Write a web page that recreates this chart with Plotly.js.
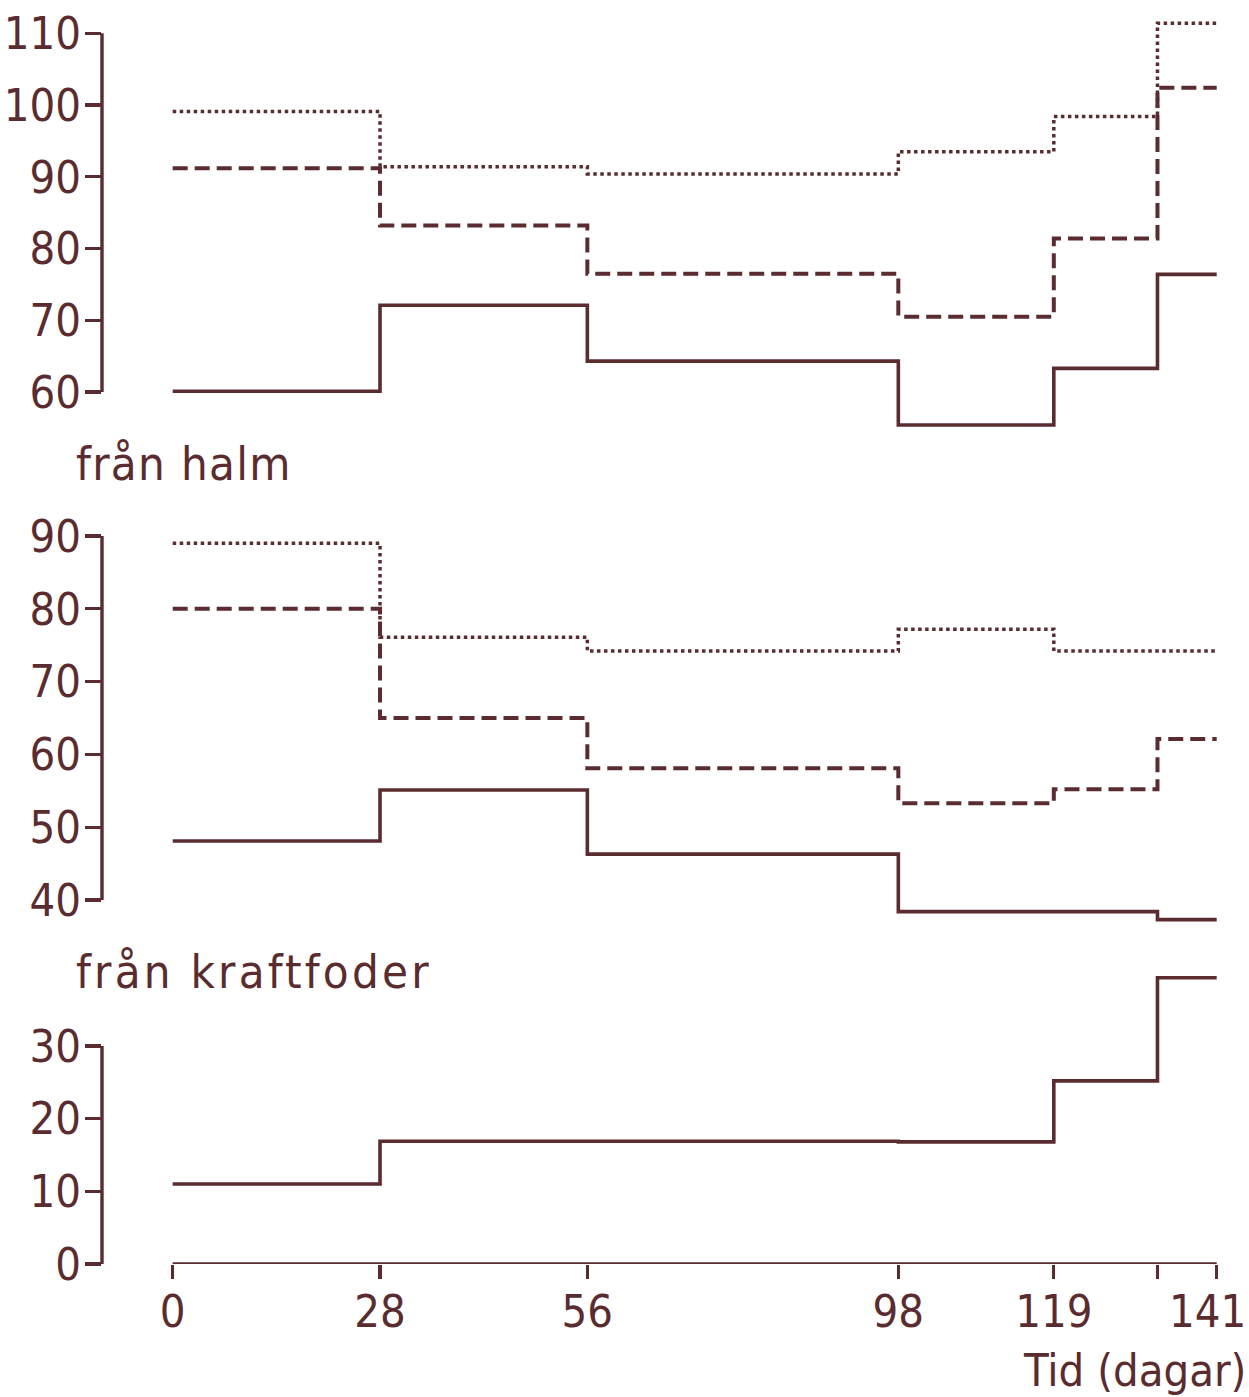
<!DOCTYPE html>
<html>
<head>
<meta charset="utf-8">
<script src="https://cdn.plot.ly/plotly-3.0.1.min.js"></script>
<style>html,body{margin:0;padding:0;background:#fff;}#chart{width:1249px;height:1397px;}</style>
</head>
<body>
<div id="chart"></div>
<script>
// ---------- data ----------
const days = [0, 28, 56, 98, 119, 133, 141];
const dayTicks = [0, 28, 56, 98, 119, 133, 141];
// the last label ("141") sits flush with the right edge, so it is drawn as a right-aligned text below
const dayTickLabels = ['0', '28', '56', '98', '119', '', ''];
const lastDayLabel = '141';

// top panel (total)
const totalDotted = [99.1, 91.4, 90.4, 93.5, 98.4, 111.4, 111.4];
const totalDashed = [91.2, 83.2, 76.5, 70.5, 81.4, 102.4, 102.4];
const totalSolid  = [60.1, 72.1, 64.3, 55.4, 63.3, 76.4, 76.4];
const totalTicks  = [60, 70, 80, 90, 100, 110];

// middle panel (från halm)
const halmDotted = [89.0, 76.1, 74.2, 77.2, 74.2, 74.2, 74.2];
const halmDashed = [80.0, 65.0, 58.1, 53.3, 55.2, 62.1, 62.1];
const halmSolid  = [48.1, 55.1, 46.3, 38.4, 38.4, 37.3, 37.3];
const halmTicks  = [40, 50, 60, 70, 80, 90];

// bottom panel (från kraftfoder)
const kraftSolid = [11.0, 16.9, 16.9, 16.8, 25.2, 39.4, 39.4];
const kraftTicks = [0, 10, 20, 30];

const panelLabels = ['från halm', 'från kraftfoder'];
const xTitle = 'Tid (dagar)';

// ---------- layout geometry ----------
const W = 1249, H = 1397;
const mL = 102, mR = 9, mT = 0, mB = 133;
const plotW = W - mL - mR, plotH = H - mT - mB;
const ink = '#5a2c30';
const fam = '"DejaVu Sans Condensed", "DejaVu Sans", sans-serif';
const tickFont = {family: fam, size: 45, color: ink};

// x: 0 at px 172.7, 141 at px 1216.7
const xk = (141 - 0) / (1216.7 - 172.7);
const xRange = [0 - (172.7 - mL) * xk, 141 + ((mL + plotW) - 1216.7) * xk];

function dom(topPx, botPx) { return [(mT + plotH - botPx) / plotH, (mT + plotH - topPx) / plotH]; }
function yr(vA, pA, vB, pB, topPx, botPx) {
  const k = (vA - vB) / (pB - pA);
  return [vB - (botPx - pB) * k, vA + (pA - topPx) * k];
}
function px2x(px) { return (px - mL) / plotW; }
function px2y(py) { return (mT + plotH - py) / plotH; }

const P1 = {top: 5, bot: 440, range: yr(110, 33.3, 60, 392, 5, 440)};
const P2 = {top: 515, bot: 930, range: yr(90, 536, 40, 900, 515, 930)};
const P3 = {top: 960, bot: 1264, range: yr(30, 1046, 0, 1264, 960, 1264)};

const dotted = '3.5px,3.5px';
const dashed = '15px,7px';

function tr(y, yaxis, dash, width) {
  return {x: days, y: y, xaxis: 'x', yaxis: yaxis, type: 'scatter', mode: 'lines',
    line: {shape: 'hv', color: ink, width: width, dash: dash}, hoverinfo: 'skip', showlegend: false};
}

const data = [
  tr(totalDotted, 'y', dotted, 3.5),
  tr(totalDashed, 'y', dashed, 4),
  tr(totalSolid, 'y', 'solid', 3.6),
  tr(halmDotted, 'y2', dotted, 3.5),
  tr(halmDashed, 'y2', dashed, 4),
  tr(halmSolid, 'y2', 'solid', 3.6),
  tr(kraftSolid, 'y3', 'solid', 3.6)
];

function yax(domain, range, ticks) {
  return {domain: domain, range: range, anchor: 'x', tickvals: ticks, ticktext: ticks.map(String),
    ticks: 'outside', ticklen: 16, tickwidth: 3.2, tickcolor: ink, showline: false, showgrid: false,
    zeroline: false, tickfont: tickFont, ticklabelstandoff: -5, fixedrange: true};
}

const axLine = {color: ink, width: 3.4};
const shapes = [
  {type: 'line', xref: 'paper', x0: 0, x1: 0, yref: 'y', y0: 60, y1: 110, line: axLine},
  {type: 'line', xref: 'paper', x0: 0, x1: 0, yref: 'y2', y0: 40, y1: 90, line: axLine},
  {type: 'line', xref: 'paper', x0: 0, x1: 0, yref: 'y3', y0: 0, y1: 30, line: axLine},
  {type: 'line', xref: 'x', x0: 0, x1: 141, yref: 'y3', y0: 0, y1: 0, line: axLine}
];

const labelFont = {family: fam, size: 47, color: ink};
const annotations = [
  {text: '<span style="letter-spacing:1.3px">' + panelLabels[0] + '</span>', xref: 'paper', yref: 'paper',
   x: px2x(74), y: px2y(464), xanchor: 'left', yanchor: 'middle', showarrow: false, font: labelFont},
  {text: '<span style="letter-spacing:3.2px">' + panelLabels[1] + '</span>', xref: 'paper', yref: 'paper',
   x: px2x(74), y: px2y(971), xanchor: 'left', yanchor: 'middle', showarrow: false, font: labelFont},
  {text: lastDayLabel, xref: 'paper', yref: 'paper', x: px2x(1248), y: px2y(1311), xanchor: 'right', yanchor: 'middle',
   showarrow: false, font: tickFont},
  {text: xTitle, xref: 'paper', yref: 'paper', x: px2x(1248), y: px2y(1370), xanchor: 'right', yanchor: 'middle', showarrow: false,
   font: {family: fam, size: 45, color: ink}}
];

const layout = {
  width: W, height: H,
  margin: {l: mL, r: mR, t: mT, b: mB, pad: 0},
  paper_bgcolor: '#ffffff', plot_bgcolor: '#ffffff',
  showlegend: false,
  xaxis: {domain: [0, 1], range: xRange, anchor: 'y3', tickvals: dayTicks, ticktext: dayTickLabels,
    ticks: 'outside', ticklen: 14, tickwidth: 3.2, tickcolor: ink, showline: false, showgrid: false,
    zeroline: false, tickfont: tickFont, ticklabelstandoff: -6, fixedrange: true},
  yaxis: yax(dom(P1.top, P1.bot), P1.range, totalTicks),
  yaxis2: yax(dom(P2.top, P2.bot), P2.range, halmTicks),
  yaxis3: yax(dom(P3.top, P3.bot), P3.range, kraftTicks),
  shapes: shapes,
  annotations: annotations
};

Plotly.newPlot('chart', data, layout, {displayModeBar: false, staticPlot: true});
</script>
</body>
</html>
